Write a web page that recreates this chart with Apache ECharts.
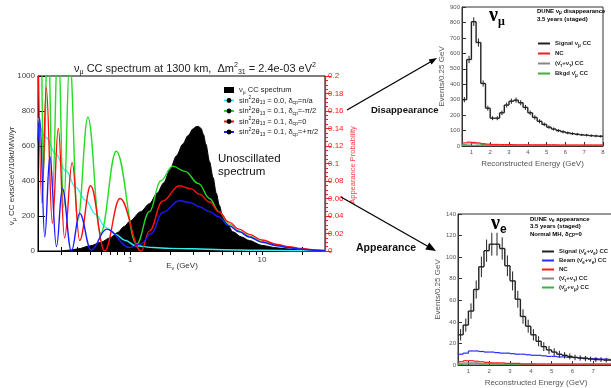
<!DOCTYPE html>
<html>
<head>
<meta charset="utf-8">
<script src="https://cdn.jsdelivr.net/npm/echarts@6/dist/echarts.min.js"></script>
<style>html,body{margin:0;background:#fff}#c{width:611px;height:388px}</style>
</head>
<body>
<div id="c"></div>
<script>
const sans = '"Liberation Sans", Arial, Helvetica, sans-serif';

// ---- main plot: unoscillated spectrum (left axis) ----
const specE = [0.3,0.35,0.4,0.5,0.6,0.7,0.8,0.9,1.0,1.2,1.4,1.6,1.8,2.0,2.25,2.5,2.75,3.0,3.15,3.3,3.45,3.6,3.75,4.0,4.25,4.5,4.75,5.0,5.5,6.0,7.0,8.0,10,13,16,20,25,30];
const specVal = [0,5,12,30,50,75,105,140,172,225,270,330,390,465,545,610,660,698,710,712,700,665,610,510,420,330,260,205,150,110,80,60,32,18,11,6,3,1];

// appearance probability curves [E, P] (right axis)
const probCyan = [[0.2,0.152],[0.229,0.130],[0.272,0.111],[0.324,0.092],[0.386,0.073],[0.459,0.058],[0.547,0.042],[0.65,0.027],[0.774,0.019],[0.92,0.012],[1.1,0.006],[1.5,0.004],[2,0.003],[3,0.0025],[5,0.0015],[10,0.0008],[20,0.0003],[30,0.0001]];
const probGreen = [[0.2,0.24],[0.21,0.26],[0.22,0.09],[0.238,0.26],[0.258,0.07],[0.284,0.25],[0.313,0.05],[0.348,0.22],[0.40,0.035],[0.478,0.153],[0.596,0.02],[0.784,0.114],[1.12,0.008],[1.4,0.045],[1.7,0.080],[2.1,0.097],[2.6,0.091],[3.3,0.077],[4.0,0.060],[4.7,0.045],[5.6,0.031],[6.7,0.023],[8,0.017],[10,0.011],[13,0.0065],[16,0.004],[20,0.0022],[25,0.001],[30,0.0004]];
const probRed = [[0.2,0.24],[0.214,0.055],[0.231,0.187],[0.257,0.032],[0.285,0.140],[0.318,0.015],[0.363,0.101],[0.414,0.012],[0.501,0.0745],[0.64,0.0],[0.837,0.060],[1.21,0.0],[1.4,0.023],[1.76,0.057],[2.36,0.0745],[2.9,0.071],[3.34,0.065],[4.0,0.056],[4.7,0.045],[5.6,0.033],[6.7,0.025],[8,0.019],[10,0.0125],[13,0.0075],[16,0.0048],[20,0.0028],[25,0.0013],[30,0.0006]];
const probBlue = [[0.2,0.125],[0.206,0.152],[0.225,0.016],[0.246,0.108],[0.276,0.005],[0.306,0.0716],[0.358,0.0],[0.414,0.043],[0.506,0.001],[0.662,0.025],[0.99,0.004],[1.2,0.008],[1.45,0.02],[1.76,0.044],[2.36,0.0575],[2.9,0.055],[3.34,0.0506],[4.0,0.045],[4.7,0.039],[5.6,0.029],[6.7,0.022],[8,0.016],[10,0.010],[13,0.006],[16,0.0037],[20,0.002],[25,0.0009],[30,0.0004]];

const logMinorTicks = [0.3,0.4,0.5,0.6,0.7,0.8,0.9,1,2,3,4,5,6,7,8,9,10,20];
const logLabels = [1, 10];

// ---- histograms, 0.25 GeV bins ----
const binLo = [0.5,0.75,1,1.25,1.5,1.75,2,2.25,2.5,2.75,3,3.25,3.5,3.75,4,4.25,4.5,4.75,5,5.25,5.5,5.75,6,6.25,6.5,6.75,7,7.25,7.5,7.75];
const binW = 0.25;
const histTicks = [1,2,3,4,5,6,7,8];

const numuSignal = [300,560,805,670,405,245,180,180,215,265,290,297,280,250,215,185,160,140,122,110,100,92,85,80,76,72,70,67,65,63];
const numuSignalErr = [17,24,28,26,20,16,13,13,15,16,17,17,17,16,15,14,13,12,11,10,10,10,9,9,9,8,8,8,8,8];
const numuNC = [20,25,23,20,15,12,10,10,9,9,9,8,8,8,8,8,8,8,8,8,7,7,7,7,7,7,7,7,7,7];
const numuTau = [3,4,4,4,4,4,4,4,4,4,4,4,3,3,3,3,3,3,3,3,3,3,3,3,3,3,3,3,2,2];
const numuBkgd = [9,13,15,13,10,7,6,5,5,5,4,4,4,4,4,3,3,3,3,3,3,3,3,3,3,3,3,3,3,3];

const nueSignal = [28,37,50,70,91,106,112,112,108,92,78,61,45,36,28,22,17,14,12,10,9,8,7,6.5,6,5.5,5,5,4.5,4.5];
const nueSignalErr = [5.3,6.1,7.1,8.4,9.5,10.3,10.6,10.6,10.4,9.6,8.8,7.8,6.7,6,5.3,4.7,4.1,3.7,3.5,3.2,3,2.8,2.6,2.5,2.4,2.3,2.2,2.2,2.1,2.1];
const nueBeam = [10,11,13,13,12.5,12,12,11.5,11,11,10.5,10,10,9.5,9,9,8.5,8,8,7.5,7.5,7,7,6.5,6.5,6,6,5.5,5.5,5];
const nueNC = [3,4,4,3.5,3,2.5,2,2,2,1.5,1.5,1.5,1,1,1,1,1,1,1,1,1,1,1,1,1,1,1,1,1,1];
const nueTau = [1.5,2,2,2,1.5,1.5,1.5,1,1,1,1,1,1,1,1,0.5,0.5,0.5,0.5,0.5,0.5,0.5,0.5,0.5,0.5,0.5,0.5,0.5,0.5,0.5];
const nueMu = [0.5,1,1.5,1.5,1,1,1,1,0.5,0.5,0.5,0.5,0.5,0.5,0.5,0.5,0.5,0.5,0.5,0.5,0.5,0.5,0.5,0.5,0.5,0.5,0.5,0.5,0.5,0.5];

const RED = '#ff1a1a';

function stepHist(name, xi, yi, vals, errs, color, width) {
  const data = vals.map((v, i) => [binLo[i], binLo[i] + binW, v, errs ? errs[i] : 0, i ? vals[i - 1] : v]);
  return {
    type: 'custom', name, xAxisIndex: xi, yAxisIndex: yi, clip: true,
    itemStyle: {color}, encode: {x: [0, 1], y: 2}, data,
    renderItem(params, api) {
      const lo = api.value(0), hi = api.value(1), v = api.value(2), e = api.value(3), pv = api.value(4);
      const a = api.coord([lo, v]), b = api.coord([hi, v]), p = api.coord([lo, pv]);
      const st = {stroke: color, lineWidth: width, fill: null};
      const kids = [
        {type: 'line', shape: {x1: p[0], y1: p[1], x2: a[0], y2: a[1]}, style: st},
        {type: 'line', shape: {x1: a[0], y1: a[1], x2: b[0], y2: b[1]}, style: st}
      ];
      if (e > 0) {
        const c = (lo + hi) / 2, t = api.coord([c, v + e]), d = api.coord([c, v - e]);
        kids.push({type: 'line', shape: {x1: t[0], y1: t[1], x2: d[0], y2: d[1]}, style: {stroke: color, lineWidth: 1}});
      }
      return {type: 'group', children: kids};
    }
  };
}

function probLine(name, data, color) {
  return {
    type: 'line', name, data, xAxisIndex: 0, yAxisIndex: 1,
    smooth: 0.4, smoothMonotone: 'x', symbol: 'circle', symbolSize: 3, showSymbol: false,
    clip: true, itemStyle: {color: '#000'}, lineStyle: {color, width: 1.4}, z: 3
  };
}

const mainLabels = {
  'νμ CC spectrum': '{n|ν}{s|μ}{n| CC spectrum}',
  'sin²2θ13 = 0.0, δcp=n/a': '{n|sin}{u|2}{n|2θ}{s|13}{n| = 0.0, δ}{s|cp}{n|=n/a}',
  'sin²2θ13 = 0.1, δcp=-π/2': '{n|sin}{u|2}{n|2θ}{s|13}{n| = 0.1, δ}{s|cp}{n|=-π/2}',
  'sin²2θ13 = 0.1, δcp=0': '{n|sin}{u|2}{n|2θ}{s|13}{n| = 0.1, δ}{s|cp}{n|=0}',
  'sin²2θ13 = 0.1, δcp=+π/2': '{n|sin}{u|2}{n|2θ}{s|13}{n| = 0.1, δ}{s|cp}{n|=+π/2}'
};
const histLabels = {
  'Signal νμ CC': '{n|Signal ν}{s|μ}{n| CC}',
  'NC (νμ sample)': '{n|NC}',
  '(ν̄τ+ντ) CC (νμ sample)': '{n|(ν̄}{s|τ}{n|+ν}{s|τ}{n|) CC}',
  'Bkgd ν̄μ CC': '{n|Bkgd ν̄}{s|μ}{n| CC}',
  'Signal (ν̄e+νe) CC': '{n|Signal (ν̄}{s|e}{n|+ν}{s|e}{n|) CC}',
  'Beam (ν̄e+νe) CC': '{n|Beam (ν̄}{s|e}{n|+ν}{s|e}{n|) CC}',
  'NC (νe sample)': '{n|NC}',
  '(ν̄τ+ντ) CC (νe sample)': '{n|(ν̄}{s|τ}{n|+ν}{s|τ}{n|) CC}',
  '(ν̄μ+νμ) CC': '{n|(ν̄}{s|μ}{n|+ν}{s|μ}{n|) CC}'
};

const richMain = {
  n: {fontSize: 7.5, lineHeight: 10, verticalAlign: 'middle', color: '#222'},
  s: {fontSize: 5, lineHeight: 10, verticalAlign: 'bottom', color: '#222'},
  u: {fontSize: 5, lineHeight: 10, verticalAlign: 'top', color: '#222'}
};
const richSmall = {
  n: {fontSize: 6, fontWeight: 'bold', lineHeight: 9, verticalAlign: 'middle', color: '#222'},
  s: {fontSize: 4.5, fontWeight: 'bold', lineHeight: 9, verticalAlign: 'bottom', color: '#222'}
};

function smallAxisX(gi, labels) {
  return {
    type: 'value', gridIndex: gi, min: 0.5, max: 8,
    axisLine: {lineStyle: {color: '#333'}},
    axisTick: {inside: true, length: 4, customValues: histTicks, lineStyle: {color: '#333'}},
    axisLabel: {customValues: labels, fontSize: 6, color: '#555', margin: 3},
    splitLine: {show: false},
    name: 'Reconstructed Energy (GeV)', nameLocation: 'middle', nameGap: 14,
    nameTextStyle: {fontSize: 8, color: '#555'}
  };
}
function smallAxisY(gi, max, step, gap) {
  return {
    type: 'value', gridIndex: gi, min: 0, max, interval: step,
    axisLine: {show: true, lineStyle: {color: '#333'}},
    axisTick: {show: true, inside: true, length: 4, lineStyle: {color: '#333'}},
    axisLabel: {fontSize: 6, color: '#555', margin: 2},
    splitLine: {show: false},
    name: 'Events/0.25 GeV', nameLocation: 'middle', nameRotate: 90, nameGap: gap,
    nameTextStyle: {fontSize: 8, color: '#555'}
  };
}

const chart = echarts.init(document.getElementById('c'));
chart.setOption({
  animation: false,
  backgroundColor: '#fff',
  textStyle: {fontFamily: sans},
  grid: [
    {left: 38, top: 76, right: 286, bottom: 137, show: true, borderColor: '#000', borderWidth: 1, backgroundColor: 'transparent', outerBoundsMode: 'none'},
    {left: 462, top: 7, right: 8, bottom: 242, show: true, borderColor: '#333', borderWidth: 1, backgroundColor: 'transparent', outerBoundsMode: 'none'},
    {left: 458, top: 214, right: -3, bottom: 23, show: true, borderColor: '#333', borderWidth: 1, backgroundColor: 'transparent', outerBoundsMode: 'none'}
  ],
  xAxis: [
    {type: 'log', logBase: 10, gridIndex: 0, min: 0.2, max: 30, position: 'bottom',
     axisLine: {lineStyle: {color: '#000'}},
     axisTick: {inside: true, length: 4, customValues: logMinorTicks, lineStyle: {color: '#000'}},
     axisLabel: {customValues: logLabels, fontSize: 8, color: '#444', margin: 5},
     splitLine: {show: false}},
    {type: 'log', logBase: 10, gridIndex: 0, min: 0.2, max: 30, position: 'top',
     axisLine: {lineStyle: {color: '#000'}},
     axisTick: {inside: true, length: 4, customValues: logMinorTicks, lineStyle: {color: '#000'}},
     axisLabel: {show: false}, splitLine: {show: false}},
    smallAxisX(1, histTicks),
    smallAxisX(2, [1,2,3,4,5,6,7])
  ],
  yAxis: [
    {type: 'value', gridIndex: 0, min: 0, max: 1000, interval: 200, position: 'left',
     axisLine: {show: true, lineStyle: {color: '#000'}},
     axisTick: {show: true, inside: true, length: 7, lineStyle: {color: '#000'}},
     axisLabel: {fontSize: 8, color: '#444', margin: 3, formatter: v => String(v)},
     splitLine: {show: false}},
    {type: 'value', gridIndex: 0, min: 0, max: 0.2, interval: 0.02, position: 'right',
     axisLine: {show: true, lineStyle: {color: RED, width: 1.2}},
     axisTick: {show: true, length: 6, lineStyle: {color: RED}},
     minorTick: {show: true, splitNumber: 4, length: 3, lineStyle: {color: RED}},
     axisLabel: {fontSize: 8, color: RED, margin: 3},
     splitLine: {show: false}},
    smallAxisY(1, 900, 100, 6),
    smallAxisY(2, 140, 20, 14)
  ],
  legend: [
    {orient: 'vertical', left: 223, top: 85, padding: 0, itemWidth: 10, itemHeight: 6, itemGap: 0.5,
     selectedMode: false, formatter: name => mainLabels[name],
     textStyle: {fontSize: 7.5, lineHeight: 10, rich: richMain},
     data: [{name: 'νμ CC spectrum', icon: 'rect', itemStyle: {color: '#000'}},
            'sin²2θ13 = 0.0, δcp=n/a', 'sin²2θ13 = 0.1, δcp=-π/2', 'sin²2θ13 = 0.1, δcp=0', 'sin²2θ13 = 0.1, δcp=+π/2']},
    {orient: 'vertical', left: 538, top: 39, padding: 0, itemWidth: 12, itemHeight: 2, itemGap: 1,
     selectedMode: false, formatter: name => histLabels[name],
     textStyle: {fontSize: 6, lineHeight: 9, rich: richSmall},
     data: [{name: 'Signal νμ CC', icon: 'rect', itemStyle: {color: '#222'}},
            {name: 'NC (νμ sample)', icon: 'rect', itemStyle: {color: RED}},
            {name: '(ν̄τ+ντ) CC (νμ sample)', icon: 'rect', itemStyle: {color: '#888'}},
            {name: 'Bkgd ν̄μ CC', icon: 'rect', itemStyle: {color: '#3cb043'}}]},
    {orient: 'vertical', left: 542, top: 247, padding: 0, itemWidth: 12, itemHeight: 2, itemGap: 0,
     selectedMode: false, formatter: name => histLabels[name],
     textStyle: {fontSize: 6, lineHeight: 9, rich: richSmall},
     data: [{name: 'Signal (ν̄e+νe) CC', icon: 'rect', itemStyle: {color: '#222'}},
            {name: 'Beam (ν̄e+νe) CC', icon: 'rect', itemStyle: {color: '#2a2aff'}},
            {name: 'NC (νe sample)', icon: 'rect', itemStyle: {color: RED}},
            {name: '(ν̄τ+ντ) CC (νe sample)', icon: 'rect', itemStyle: {color: '#888'}},
            {name: '(ν̄μ+νμ) CC', icon: 'rect', itemStyle: {color: '#3cb043'}}]}
  ],
  series: [
    {type: 'line', name: 'νμ CC spectrum', xAxisIndex: 0, yAxisIndex: 0,
     data: specE.map((e, i) => [e, specVal[i]]), smooth: 0.3, smoothMonotone: 'x',
     symbol: 'none', lineStyle: {color: '#000', width: 1}, areaStyle: {color: '#000', opacity: 1},
     itemStyle: {color: '#000'}, z: 1},
    probLine('sin²2θ13 = 0.0, δcp=n/a', probCyan, '#33f0f0'),
    probLine('sin²2θ13 = 0.1, δcp=-π/2', probGreen, '#22dd22'),
    probLine('sin²2θ13 = 0.1, δcp=0', probRed, '#ff1010'),
    probLine('sin²2θ13 = 0.1, δcp=+π/2', probBlue, '#1a1aff'),

    stepHist('Bkgd ν̄μ CC', 2, 2, numuBkgd, null, '#3cb043', 1),
    stepHist('(ν̄τ+ντ) CC (νμ sample)', 2, 2, numuTau, null, '#888', 1),
    stepHist('NC (νμ sample)', 2, 2, numuNC, null, RED, 1.2),
    stepHist('Signal νμ CC', 2, 2, numuSignal, numuSignalErr, '#222', 1.4),

    stepHist('(ν̄μ+νμ) CC', 3, 3, nueMu, null, '#3cb043', 1),
    stepHist('(ν̄τ+ντ) CC (νe sample)', 3, 3, nueTau, null, '#888', 1),
    stepHist('NC (νe sample)', 3, 3, nueNC, null, RED, 1.2),
    stepHist('Beam (ν̄e+νe) CC', 3, 3, nueBeam, null, '#2a2aff', 1.2),
    stepHist('Signal (ν̄e+νe) CC', 3, 3, nueSignal, nueSignalErr, '#222', 1.4)
  ],
  graphic: [
    {type: 'text', x: 195, y: 69, z: 10, style: {
      text: '{n|ν}{s|μ}{n| CC spectrum at 1300 km,  Δm}{u|2}{s|31}{n| = 2.4e-03 eV}{u|2}',
      align: 'center', verticalAlign: 'middle', fill: '#222',
      rich: {n: {fontSize: 11, lineHeight: 14, verticalAlign: 'middle', fontFamily: sans},
             s: {fontSize: 7, lineHeight: 14, verticalAlign: 'bottom', fontFamily: sans},
             u: {fontSize: 7, lineHeight: 14, verticalAlign: 'top', fontFamily: sans}}}},
    {type: 'text', x: 12, y: 176, rotation: Math.PI / 2, z: 10, style: {
      text: '{n|ν}{s|μ}{n| CC evts/GeV/10kt/MW/yr}', align: 'center', verticalAlign: 'middle',
      rich: {n: {fontSize: 8, lineHeight: 10, verticalAlign: 'middle', fill: '#333', fontFamily: sans},
             s: {fontSize: 5.5, lineHeight: 10, verticalAlign: 'bottom', fill: '#333', fontFamily: sans}}}},
    {type: 'text', x: 353, y: 165, rotation: Math.PI / 2, z: 10, style: {
      text: 'Appearance Probability', align: 'center', verticalAlign: 'middle',
      fontSize: 7.5, fill: '#ff3b3b', fontFamily: sans}},
    {type: 'text', x: 182, y: 266, z: 10, style: {
      text: '{n|E}{s|ν}{n| (GeV)}', align: 'center', verticalAlign: 'middle',
      rich: {n: {fontSize: 8, lineHeight: 10, verticalAlign: 'middle', fill: '#333', fontFamily: sans},
             s: {fontSize: 5.5, lineHeight: 10, verticalAlign: 'bottom', fill: '#333', fontFamily: sans}}}},
    {type: 'text', left: 218, top: 152, z: 10, style: {
      text: 'Unoscillated\nspectrum', fontSize: 11.5, lineHeight: 13, fill: '#111', fontFamily: sans}},

    // arrows
    {type: 'line', z: 10, shape: {x1: 347, y1: 110, x2: 432, y2: 61}, style: {stroke: '#000', lineWidth: 1.3}},
    {type: 'polygon', z: 10, shape: {points: [[437, 58], [431.6, 64.6], [428.6, 59.4]]}, style: {fill: '#000'}},
    {type: 'line', z: 10, shape: {x1: 341, y1: 197, x2: 429, y2: 247}, style: {stroke: '#000', lineWidth: 1.3}},
    {type: 'polygon', z: 10, shape: {points: [[436, 251], [425.3, 249.6], [429.3, 242.6]]}, style: {fill: '#000'}},
    {type: 'text', left: 371, top: 105, z: 10, style: {text: 'Disappearance', fontSize: 9.5, fontWeight: 'bold', fill: '#111', fontFamily: sans}},
    {type: 'text', left: 356, top: 243, z: 10, style: {text: 'Appearance', fontSize: 10.5, fontWeight: 'bold', fill: '#111', fontFamily: sans}},

    // top-right annotations
    {type: 'text', left: 489, top: 6, z: 10, style: {
      text: '{a|ν}{b|μ}',
      rich: {a: {fontSize: 20, fontWeight: 'bold', fontFamily: '"Liberation Serif", serif', lineHeight: 24, verticalAlign: 'middle', fill: '#000'},
             b: {fontSize: 12, fontWeight: 'bold', fontFamily: '"Liberation Serif", serif', lineHeight: 24, verticalAlign: 'bottom', fill: '#000'}}}},
    {type: 'text', left: 537, top: 8, z: 10, style: {text: '{n|DUNE ν}{s|μ}{n| disappearance}', rich: richSmall}},
    {type: 'text', left: 537, top: 16, z: 10, style: {text: '{n|3.5 years (staged)}', rich: richSmall}},

    // bottom-right annotations
    {type: 'text', left: 491, top: 214, z: 10, style: {
      text: '{a|ν}{b|e}',
      rich: {a: {fontSize: 20, fontWeight: 'bold', fontFamily: '"Liberation Serif", serif', lineHeight: 24, verticalAlign: 'middle', fill: '#000'},
             b: {fontSize: 12, fontWeight: 'bold', fontFamily: sans, lineHeight: 24, verticalAlign: 'bottom', fill: '#000'}}}},
    {type: 'text', left: 530, top: 216, z: 10, style: {text: '{n|DUNE ν}{s|e}{n| appearance}', rich: richSmall}},
    {type: 'text', left: 530, top: 223.5, z: 10, style: {text: '{n|3.5 years (staged)}', rich: richSmall}},
    {type: 'text', left: 530, top: 231, z: 10, style: {text: '{n|Normal MH, δ}{s|CP}{n|=0}', rich: richSmall}}
  ]
});
</script>
</body>
</html>
